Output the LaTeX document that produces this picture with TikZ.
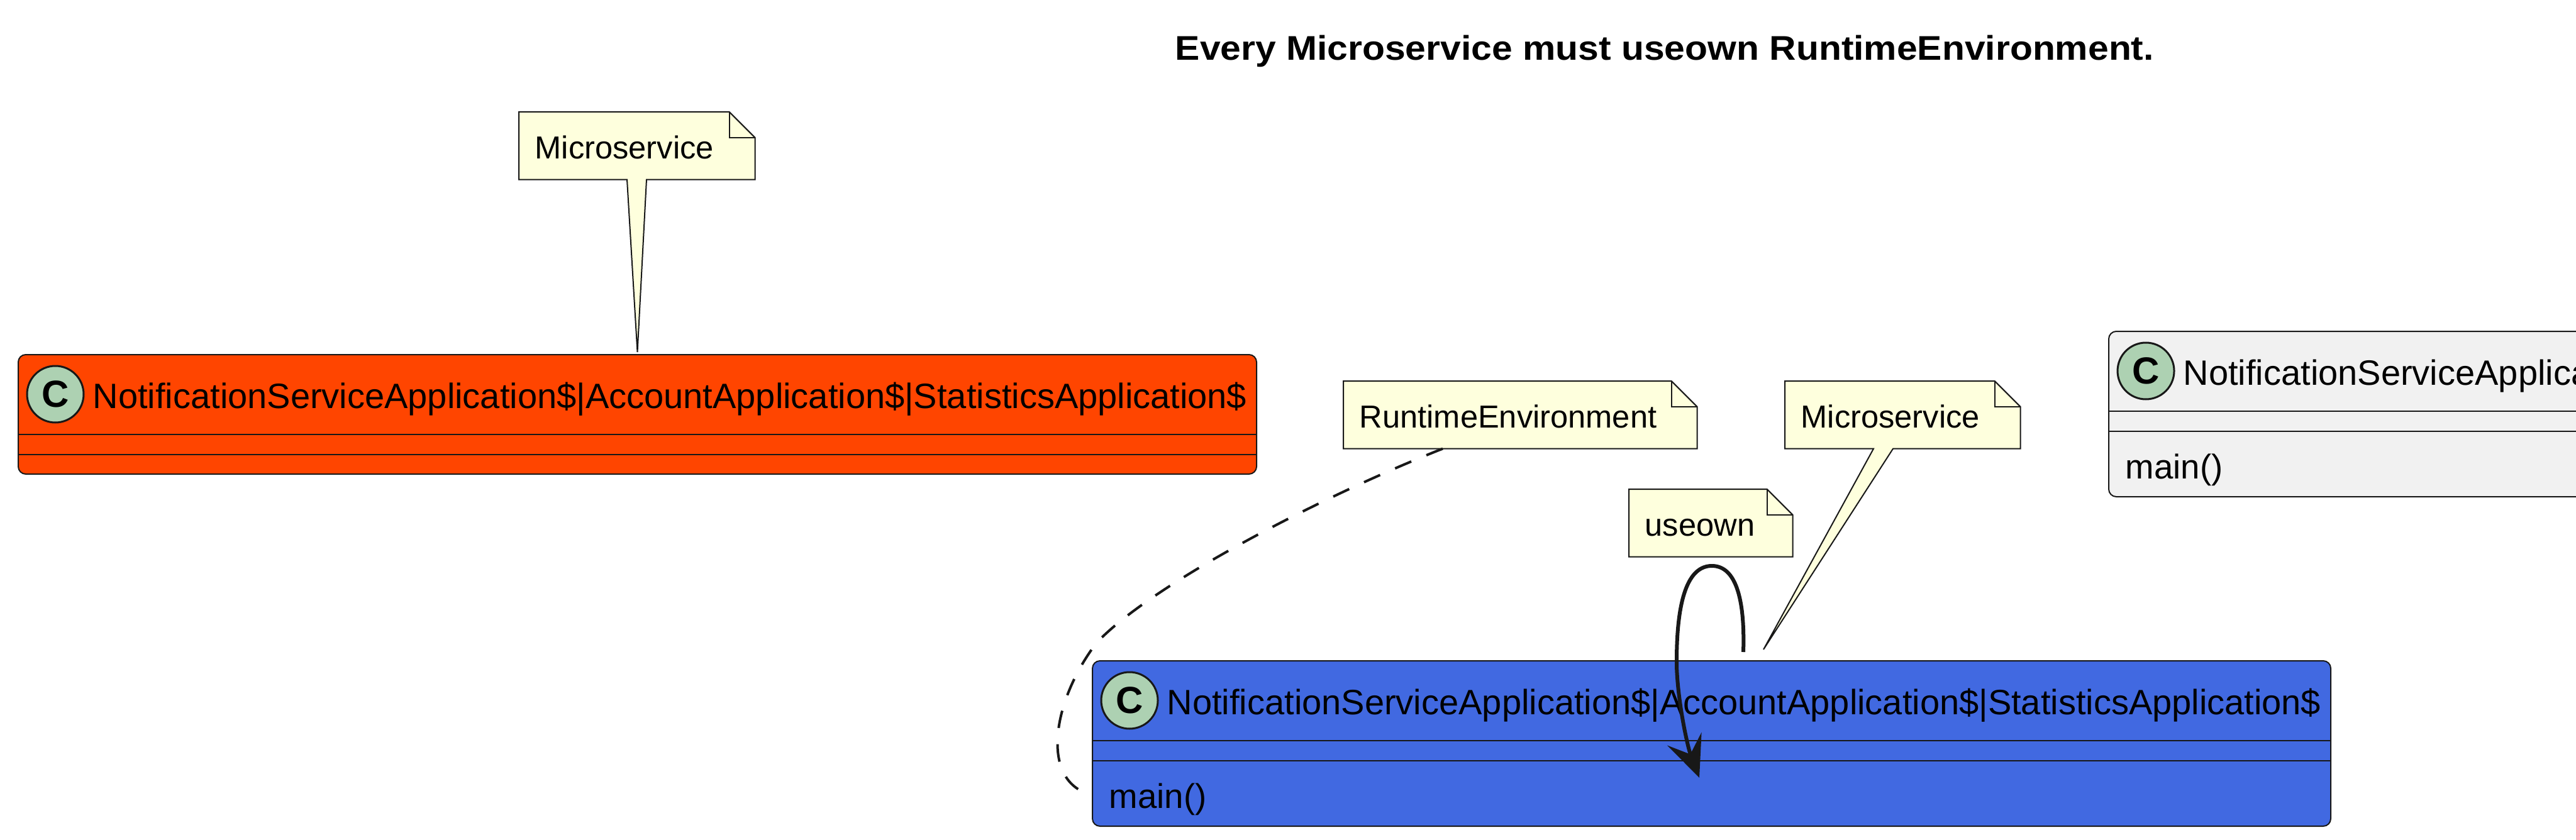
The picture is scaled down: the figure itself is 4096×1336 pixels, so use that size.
\documentclass[tikz,border=0pt]{standalone}
\usepackage{fontspec}
\usepackage{graphicx}
\setmainfont{Liberation Sans}
\usetikzlibrary{calc,arrows.meta}
\definecolor{linec}{HTML}{181818}
\definecolor{orangeA}{HTML}{FF4500}
\definecolor{blueB}{HTML}{4169E1}
\definecolor{grayC}{HTML}{F1F1F1}
\definecolor{notefill}{HTML}{FEFFDD}
\definecolor{circfill}{HTML}{ADD1B2}
\pgfdeclarelayer{bg}
\pgfsetlayers{bg,main}
\tikzset{
  classbox/.style={rectangle, draw=linec, line width=0.5pt, rounded corners=3pt, inner sep=0pt, anchor=north west, minimum width=492.25pt},
  sepline/.style={draw=linec, line width=0.5pt},
  circC/.style={circle, draw=linec, line width=0.75pt, fill=circfill, minimum size=22.5pt, inner sep=0pt, font=\fontsize{15pt}{18pt}\selectfont\bfseries},
  nametext/.style={anchor=base west, inner sep=0pt, font=\fontsize{14pt}{17pt}\selectfont},
  methtext/.style={anchor=base west, inner sep=0pt, font=\fontsize{13.65pt}{16pt}\selectfont},
  notebox/.style={rectangle, anchor=north west, inner xsep=6.25pt, inner ysep=0pt, minimum height=26.5pt, text height=10.5pt, text depth=0pt, align=left, font=\fontsize{12.65pt}{15pt}\selectfont},
  noteline/.style={draw=linec, line width=0.5pt, fill=notefill, line join=miter},
  foldline/.style={draw=linec, line width=0.5pt},
  dep/.style={draw=linec, line width=1pt, dash pattern=on 7pt off 6.5pt},
  selfarrow/.style={draw=linec, line width=1.5pt, -{Stealth[length=16.5pt, width=14.5pt, inset=6.5pt]}},
  titletext/.style={anchor=base west, inner sep=0pt, font=\fontsize{13.6pt}{16pt}\selectfont\bfseries},
}
\begin{document}
\begin{tikzpicture}[x=0.25pt, y=-0.25pt]
\useasboundingbox (0,0) rectangle (4096,1336);
\clip (0,0) rectangle (4096,1336);

% title
\node[titletext] (title) at (1868,96) {\resizebox{389pt}{\height}{Every Microservice must useown RuntimeEnvironment.}};

% classes
\node[classbox, fill=orangeA, minimum height=47.5pt] (A) at (28,563) {};
\node[classbox, fill=blueB, minimum height=65.75pt] (B) at (1736,1050) {};
\node[classbox, fill=grayC, minimum height=65.75pt] (C) at (3352,526) {};

\foreach \n in {A,B,C} {
  \draw[sepline] ($(\n.north west)+(0,128)$) -- ($(\n.north east)+(0,128)$);
  \draw[sepline] ($(\n.north west)+(0,160)$) -- ($(\n.north east)+(0,160)$);
}

\node[circC] (Acirc) at ($(A.north west)+(60,64)$) {C};
\node[circC] (Bcirc) at ($(B.north west)+(60,64)$) {C};
\node[circC] (Ccirc) at ($(C.north west)+(60,64)$) {C};

\node[nametext] (Aname) at ($(A.north west)+(119,86)$) {NotificationServiceApplication\$|AccountApplication\$|StatisticsApplication\$};
\node[nametext] (Bname) at ($(B.north west)+(119,86)$) {NotificationServiceApplication\$|AccountApplication\$|StatisticsApplication\$};
\node[nametext] (Cname) at ($(C.north west)+(119,86)$) {NotificationServiceApplication\$|AccountApplication\$|StatisticsApplication\$};

\node[methtext] (Bmain) at ($(B.north west)+(27,235)$) {main()};
\node[methtext] (Cmain) at ($(C.north west)+(27,235)$) {main()};

% notes
\node[notebox, text width=81pt] (N1) at (825,178) {Microservice};
\node[notebox, text width=127.75pt] (N2) at (2136,606) {RuntimeEnvironment};
\node[notebox, text width=80.75pt] (N3) at (2838,606) {Microservice};
\node[notebox, text width=52.25pt] (N4) at (2590,778) {useown};

\begin{pgfonlayer}{bg}
\path[noteline] (N1.north west) -- ($(N1.north east)+(-41,0)$) -- ($(N1.north east)+(0,41)$) -- (N1.south east)
  -- ($(N1.south west)+(203,0)$) -- ($(A.north)+(0,-3)$) -- ($(N1.south west)+(172,0)$) -- (N1.south west) -- cycle;
\path[noteline] (N2.north west) -- ($(N2.north east)+(-41,0)$) -- ($(N2.north east)+(0,41)$) -- (N2.south east)
  -- (N2.south west) -- cycle;
\path[noteline] (N3.north west) -- ($(N3.north east)+(-41,0)$) -- ($(N3.north east)+(0,41)$) -- (N3.south east)
  -- ($(N3.south west)+(172,0)$) -- ($(B.north west)+(1068,-17)$) -- ($(N3.south west)+(141,0)$) -- (N3.south west) -- cycle;
\path[noteline] (N4.north west) -- ($(N4.north east)+(-41,0)$) -- ($(N4.north east)+(0,41)$) -- (N4.south east)
  -- (N4.south west) -- cycle;
\end{pgfonlayer}

\foreach \n in {N1,N2,N3,N4} {
  \draw[foldline] ($(\n.north east)+(-41,0)$) -- ($(\n.north east)+(-41,41)$) -- ($(\n.north east)+(0,41)$);
}

% connectors
\draw[dep] ($(N2.south west)+(158,0)$) .. controls (2100,790) and (1830,930) .. (1743,1023)
  .. controls (1670,1120) and (1655,1245) .. ($(B.north west)+(0,214)$);

\draw[selfarrow] ($(B.north west)+(1036,-13)$) .. controls (2775,940) and (2755,900) .. (2722,900)
  .. controls (2685,900) and (2665,950) .. (2666,1060)
  .. controls (2668,1120) and (2684,1190) .. ($(B.north west)+(966,187)$);
\end{tikzpicture}
\end{document}
